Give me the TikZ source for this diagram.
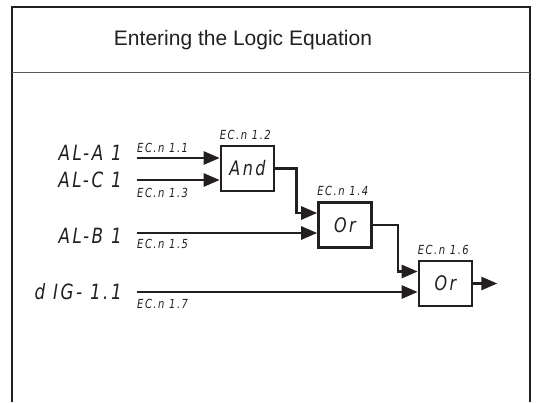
\documentclass[tikz,border=0pt]{standalone}
\usepackage{fontspec}
\setmainfont{Liberation Sans}
\newfontfamily\segfont{DejaVu Sans}[FakeStretch=0.8,LetterSpace=12]
\usetikzlibrary{arrows.meta,positioning}
\definecolor{LEcrta}{HTML}{231F20}
\colorlet{LEsiva}{LEcrta!75}

\begin{document}
\begin{tikzpicture}[x=1pt,y=-1pt,font=\fontsize{21}{23}\selectfont,color=LEcrta,
  gate/.style={draw,line width=2.6pt,minimum width=53pt,minimum height=45pt,inner sep=0pt,
    font=\segfont\itshape\fontsize{20}{20}\selectfont},
  sig/.style={line width=2.6pt,-{Triangle[length=16pt,width=13pt]}},
  inlab/.style={anchor=east,inner sep=0pt,font=\segfont\itshape\fontsize{21}{21}\selectfont},
  eqlab/.style={inner sep=0pt,font=\segfont\itshape\fontsize{12.5}{12}\selectfont}]
\useasboundingbox (0,0) rectangle (538,402);
\draw[line width=1.6pt] (12,402)--(12,7)--(530,7)--(530,402);
\draw[LEsiva,line width=1pt] (12,72)--(530,72);
\node (title) at (243,40) {Entering the Logic Equation};
% gates
\node[gate] (and) at (247.5,168.5) {And};
\node[gate] (or1) at (345,225) {Or};
\node[gate] (or2) at (445.5,283.5) {Or};
% inputs
\foreach \n/\y/\lab in {ala/153/AL-A 1,alc/180/AL-C 1,alb/236/AL-B 1,dig/292/d IG- 1.1}{
  \node[inlab] (\n) at (122,\y) {\lab};
}
\foreach \n/\y in {s1/158,s2/180,s3/233,s4/292}{\coordinate (\n) at (137,\y);}
\draw[sig] (s1) -- (and.west |- s1);
\draw[sig] (s2) -- (and.west |- s2);
\draw[sig] (s3) -- (or1.west |- s3);
\draw[sig] (s4) -- (or2.west |- s4);
\draw[sig] (and.east) -- ++(21,0) |- ([yshift=12pt]or1.west);
\draw[sig] (or1.east) -- ++(25,0) |- ([yshift=12pt]or2.west);
\coordinate (out) at ([xshift=24pt]or2.east);
\draw[sig] (or2.east) -- (out);
% equation numbers
\node[eqlab,anchor=base west] (e11) at (137,152) {EC.n 1.1};
\node[eqlab,anchor=base west] (e13) at (137,197) {EC.n 1.3};
\node[eqlab,anchor=base west] (e15) at (137,248) {EC.n 1.5};
\node[eqlab,anchor=base west] (e17) at (137,308) {EC.n 1.7};
\foreach \g/\lab in {and/1.2,or1/1.4,or2/1.6}{
  \node[eqlab,anchor=south west] (e\g) at ([yshift=5pt]\g.north west) {EC.n \lab};
}
\end{tikzpicture}
\end{document}
